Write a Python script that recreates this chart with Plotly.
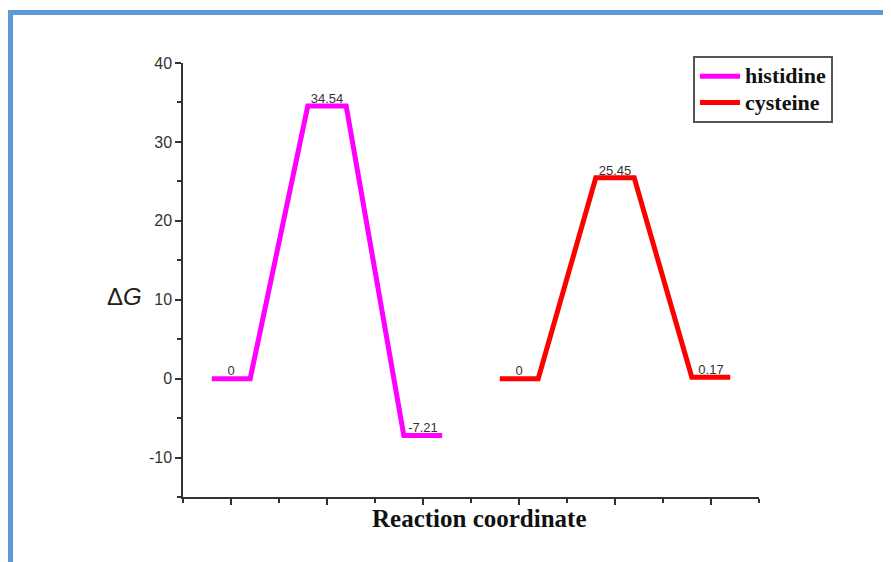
import plotly.graph_objects as go

# ---- data ----
stages_his = [1, 2, 3]
energy_his = [0, 34.54, -7.21]
labels_his = ["0", "34.54", "-7.21"]

stages_cys = [4, 5, 6]
energy_cys = [0, 25.45, 0.17]
labels_cys = ["0", "25.45", "0.17"]

series_names = ["histidine", "cysteine"]
series_colors = ["#FF00FF", "#FF0000"]

y_tickvals = [-10, 0, 10, 20, 30, 40]
y_ticktext = ["-10", "0", "10", "20", "30", "40"]

HALF = 0.2  # half width of each energy level plateau


def profile(stages, energies):
    xs, ys = [], []
    for s, e in zip(stages, energies):
        xs += [s - HALF, s + HALF]
        ys += [e, e]
    return xs, ys


OFF = 8  # page body margin
W, H = 891 - OFF, 562 - OFF
L, T = 183 - OFF, 63 - OFF
R = W - (759 - OFF)
B = H - (497 - OFF)
pw, ph = W - L - R, H - T - B

fig = go.Figure()
for stages, energies, labels, name, color in [
    (stages_his, energy_his, labels_his, series_names[0], series_colors[0]),
    (stages_cys, energy_cys, labels_cys, series_names[1], series_colors[1]),
]:
    xs, ys = profile(stages, energies)
    fig.add_trace(go.Scatter(x=xs, y=ys, mode="lines",
                             name=f"<span style='font-size:22px'><b>{name}</b></span>",
                             line=dict(color=color, width=5)))
    fig.add_trace(go.Scatter(x=stages, y=energies, mode="text", text=labels,
                             textposition="top center", showlegend=False,
                             textfont=dict(family="Liberation Sans", size=13, color="#333333"),
                             hoverinfo="skip"))


def px(xpix):
    return (xpix - OFF - L) / pw


def py(ypix):
    return (H - B - (ypix - OFF)) / ph


# blue frame (left and top edges)
x0 = px(10.5)
y0 = py(12.5)
fig.add_shape(type="path", xref="paper", yref="paper",
              path=f"M {x0},{py(620)} L {x0},{y0} L {px(950)},{y0}",
              line=dict(color="#5B9BD5", width=5))

fig.add_annotation(xref="paper", yref="paper", x=px(124), y=py(296),
                   text="Δ<i>G</i>", showarrow=False, xanchor="center", yanchor="middle",
                   font=dict(family="Liberation Sans", size=24, color="#222222"))
fig.add_annotation(xref="paper", yref="paper", x=px(479), y=py(519),
                   text="<b>Reaction coordinate</b>", showarrow=False,
                   xanchor="center", yanchor="middle",
                   font=dict(family="Liberation Serif", size=25, color="#111111"))

axis_common = dict(showgrid=False, zeroline=False, showline=True, linecolor="#333333",
                   linewidth=1.5, ticks="outside", tickcolor="#333333", tickwidth=1.5,
                   ticklen=6)

fig.update_xaxes(range=[0.5, 6.5], tickmode="linear", tick0=1, dtick=1,
                 showticklabels=False,
                 minor=dict(dtick=0.5, tick0=0.5, ticks="outside", ticklen=4,
                            tickcolor="#333333", tickwidth=1.5),
                 **axis_common)
fig.update_yaxes(range=[-15, 40], tickmode="array", tickvals=y_tickvals,
                 ticktext=y_ticktext,
                 tickfont=dict(family="Liberation Sans", size=16, color="#333333"),
                 minor=dict(tickmode="linear", dtick=5, tick0=0, ticks="outside", ticklen=4,
                            tickcolor="#333333", tickwidth=1.5),
                 **axis_common)

fig.update_layout(
    width=W, height=H,
    margin=dict(l=L, r=R, t=T, b=B),
    plot_bgcolor="white", paper_bgcolor="white",
    legend=dict(x=px(693), y=py(56), xanchor="left", yanchor="top",
                bordercolor="#555555", borderwidth=2, bgcolor="white",
                font=dict(family="Liberation Serif", size=18, color="#111111"),
                tracegroupgap=0, itemwidth=40),
    showlegend=True,
)

fig.write_html("out.html")
